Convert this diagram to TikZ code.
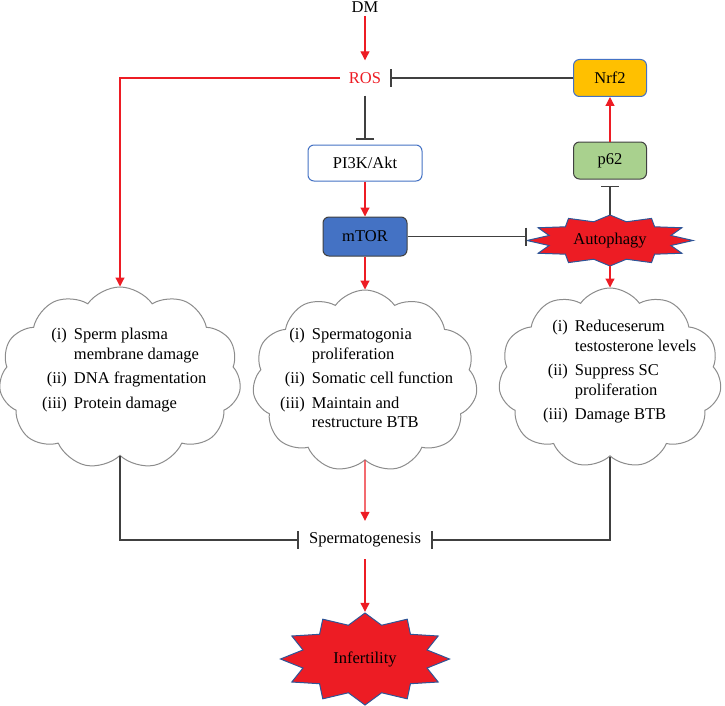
\documentclass[tikz,border=0pt]{standalone}
\usepackage{fontspec}
\setmainfont{Liberation Serif}
\usepackage{xcolor}
\definecolor{ColR}{RGB}{237,28,36}
\definecolor{ColB}{RGB}{68,114,196}
\definecolor{ColDB}{RGB}{47,85,151}
\definecolor{ColY}{RGB}{255,192,0}
\definecolor{ColG}{RGB}{169,209,142}
\definecolor{ColK}{RGB}{64,64,64}
\definecolor{ColC}{RGB}{140,140,140}
\usepackage{tikz}
\usetikzlibrary{shapes.symbols}
\usetikzlibrary{arrows.meta}
\tikzstyle{Box}=[rectangle,rounded corners=6pt,draw=ColB,line width=1pt,
inner sep=0pt]
\tikzstyle{Arrow}=[draw=ColR,line width=1.2pt,
-{Triangle[length=9pt,width=9pt]}]
\tikzstyle{Inhib}=[draw=ColK,line width=1.2pt,
-{Bar[width=18pt,line width=1.4pt]}]
\tikzstyle{CloudST}=[cloud,cloud puffs=11,cloud puff arc=110,
cloud ignores aspect,draw=ColC,line width=1pt,fill=white,inner sep=0pt]
\tikzstyle{ListST}=[anchor=north west,inner sep=0pt]
\tikzstyle{BurstST}=[fill=ColR,draw=ColDB,line width=1pt,line join=miter]
\tikzstyle{NodeST}=[inner sep=0pt,minimum width=166pt]
% twelve-point burst, stretched to rx by ry
\newcommand{\Burst}[4]{\draw[BurstST,shift={(#1,#2)}]
  plot[samples at={0,...,23}]
  ({(isodd(\x)?.76:1)*#3*cos(90+15*\x)},{(isodd(\x)?.76:1)*#4*sin(90+15*\x)})
  --cycle;}
\newcommand{\Items}[1]{\begin{tabular}{@{}r@{\hspace{7pt}}l@{}}#1\end{tabular}}

\begin{document}
\begin{tikzpicture}[x=1pt,y=-1pt,font=\fontsize{16.5}{19.5}\selectfont]
        \useasboundingbox(0,0)rectangle(725,706);
        \node(dm)at(365.00,7.00){DM};
        \node[text=ColR,text height=11pt,text depth=0pt,inner xsep=9pt,
                inner ysep=12pt](ros)at(365.00,78.00){ROS};
        \node[Box,fill=ColY,minimum width=73pt,minimum height=37pt]
                (nrf)at(610.00,78.00){Nrf2};
        \node[Box,fill=ColG,draw=ColK,minimum width=73pt,minimum height=37pt]
                (p62)at(610.00,160.50){p62};
        \node[Box,fill=white,minimum width=114pt,minimum height=36pt]
                (pik)at(365.00,163.00){PI3K/Akt};
        \node[Box,fill=ColB,draw=ColK,minimum width=84pt,minimum height=39pt]
                (mtor)at(365.00,236.50){mTOR};
        \Burst{610.00}{240.50}{83}{25.5}
        \node[NodeST,minimum height=51pt](auto)at(610.00,240.50){Autophagy};
        % the three clouds
        \node[CloudST,minimum width=242pt,minimum height=182pt]
                (cl)at(120.00,378.00){};
        \node[CloudST,minimum width=225pt,minimum height=182pt]
                (cm)at(365.00,381.00){};
        \node[CloudST,minimum width=223pt,minimum height=180pt]
                (cr)at(610.00,378.00){};
        \node[ListST](ll)at(42.00,326.00){\Items{(i)&Sperm plasma\\
                &membrane damage\\[5pt](ii)&DNA fragmentation\\[5pt]
                (iii)&Protein damage}};
        \node[ListST](lm)at(280.00,326.00){\Items{(i)&Spermatogonia\\
                &proliferation\\[5pt](ii)&Somatic cell function\\[5pt]
                (iii)&Maintain and\\&restructure BTB}};
        \node[ListST](lr)at(543.00,318.00){\Items{(i)&Reduceserum\\
                &testosterone levels\\[5pt](ii)&Suppress SC\\
                &proliferation\\[5pt](iii)&Damage BTB}};
        \node[inner xsep=10pt,inner ysep=0pt,minimum height=38pt]
                (sp)at(365.00,540.00){Spermatogenesis};
        \Burst{365.00}{659.00}{84.5}{46}
        \node[NodeST,minimum height=94pt](inf)at(365.00,659.00){Infertility};
        \draw[Arrow](dm)--(ros);
        \draw[Inhib](nrf)--(ros);
        \draw[Arrow](ros.west)-|(cl.north);
        \draw[Inhib,shorten >=5pt](ros)--(pik);
        \draw[Arrow](pik)--(mtor);
        \draw[Inhib](mtor.east)--(mtor.east-|auto.west);
        \draw[Inhib,shorten >=6pt](auto)--(p62);
        \draw[Arrow](p62)--(nrf);
        \draw[Arrow](mtor)--(cm);
        \draw[Arrow](auto)--(cr);
        \draw[Inhib](cl.south)|-(sp.west);
        \draw[Inhib](cr.south)|-(sp.east);
        \draw[Arrow](cm)--(sp);
        \draw[Arrow](sp)--(inf);
    \end{tikzpicture}
\end{document}
